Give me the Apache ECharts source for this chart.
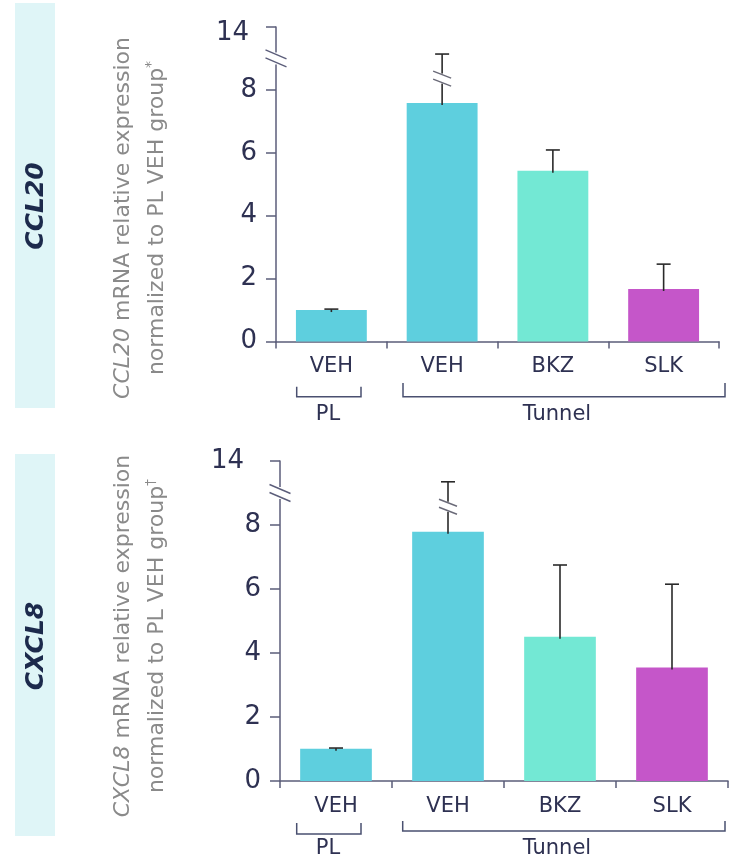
<!DOCTYPE html>
<html>
<head>
<meta charset="utf-8">
<script src="https://cdn.jsdelivr.net/npm/echarts@6/dist/echarts.min.js"></script>
<style>
  html, body { margin: 0; padding: 0; background: #ffffff; }
  #chart { width: 730px; height: 863px; }
</style>
</head>
<body>
<div id="chart"></div>
<script>
// ---- data ----
const categories = ['VEH', 'VEH', 'BKZ', 'SLK'];
const groupLabels = ['PL', 'Tunnel'];
const barColors = ['#5ecfde', '#5ecfde', '#73e8d4', '#c556c9'];

const ccl20Mean = [1.0, 7.58, 5.43, 1.67];
const ccl20Upper = [1.03, 13.14, 6.09, 2.46];

const cxcl8Mean = [1.01, 7.79, 4.51, 3.55];
const cxcl8Upper = [1.03, 13.35, 6.75, 6.15];

const yTickValues = [0, 2, 4, 6, 8, 14];
const axisBreak = { start: 9, end: 13 };

// ---- styling ----
const FONT = 'DejaVu Sans';
const NAVY = '#2e3152';
const AXIS = '#5b5d7a';
const ERR = '#2a2a2a';

const panels = [
  {
    gene: 'CCL20', sup: '*', mean: ccl20Mean, upper: ccl20Upper,
    grid: { left: 276, top: 27, width: 443, height: 314.5 },
    band: { y: 3, h: 405 }, geneY: 206, titleY: 218,
    topLabelPad: [12, 8, 0, 0],
    brackets: [
      { x1: 296.7, x2: 361, yTop: 386.7, yBase: 396.7, textX: 328, textY: 415 },
      { x1: 403, x2: 725, yTop: 383, yBase: 396.7, textX: 557, textY: 415 }
    ]
  },
  {
    gene: 'CXCL8', sup: '\u2020', mean: cxcl8Mean, upper: cxcl8Upper,
    grid: { left: 280, top: 461, width: 448, height: 320 },
    band: { y: 454, h: 382 }, geneY: 646, titleY: 636,
    topLabelPad: [0, 17, 0, 0],
    brackets: [
      { x1: 296.7, x2: 361, yTop: 823, yBase: 834, textX: 328, textY: 849 },
      { x1: 402.7, x2: 725, yTop: 821, yBase: 831, textX: 557, textY: 849 }
    ]
  }
];

function renderErrorBar(params, api) {
  const i = api.value(0);
  const lo = api.value(1);
  const hi = api.value(2);
  const p0 = api.coord([i, lo]);
  const p1 = api.coord([i, hi]);
  const x = p0[0];
  const children = [
    { type: 'line', shape: { x1: x, y1: p0[1] + 2, x2: x, y2: p1[1] },
      style: { stroke: ERR, lineWidth: 1.6 } },
    { type: 'line', shape: { x1: x - 7, y1: p1[1], x2: x + 7, y2: p1[1] },
      style: { stroke: ERR, lineWidth: 1.6 } }
  ];
  if (hi > axisBreak.end) {
    // interrupted whisker with a double slash
    const ym = (p0[1] + p1[1]) / 2;
    children.push({ type: 'rect', shape: { x: x - 3, y: ym - 5, width: 6, height: 10 },
      style: { fill: '#ffffff' } });
    [-4, 4].forEach(function (d) {
      children.push({ type: 'line',
        shape: { x1: x - 9, y1: ym + d - 3.5, x2: x + 9, y2: ym + d + 3.5 },
        style: { stroke: '#6a6a78', lineWidth: 1.4 } });
    });
  }
  return { type: 'group', children: children };
}

const grids = [], xAxes = [], yAxes = [], series = [];
panels.forEach(function (p, k) {
  grids.push(Object.assign({ containLabel: false }, p.grid));
  xAxes.push({
    type: 'category', gridIndex: k, data: categories,
    axisLine: { lineStyle: { color: AXIS, width: 1.5 } },
    axisTick: { show: true, length: 7, lineStyle: { color: AXIS, width: 1.5 } },
    axisLabel: { color: NAVY, fontFamily: FONT, fontSize: 21, margin: 15 }
  });
  yAxes.push({
    type: 'value', gridIndex: k, min: 0, max: 14,
    breaks: [{ start: axisBreak.start, end: axisBreak.end, gap: 0 }],
    breakArea: { show: false },
    splitLine: { show: false },
    axisLine: { show: true, lineStyle: { color: AXIS, width: 1.5 } },
    axisTick: { show: true, length: 10, customValues: yTickValues,
      lineStyle: { color: AXIS, width: 1.5 } },
    axisLabel: {
      customValues: yTickValues, margin: 19,
      formatter: function (v) { return v === 14 ? '{t|14}' : '{n|' + v + '}'; },
      rich: {
        n: { color: NAVY, fontFamily: FONT, fontSize: 26 },
        t: { color: NAVY, fontFamily: FONT, fontSize: 26, padding: p.topLabelPad }
      }
    }
  });
  series.push({
    type: 'bar', xAxisIndex: k, yAxisIndex: k, barWidth: '64%',
    data: p.mean.map(function (v, i) { return { value: v, itemStyle: { color: barColors[i] } }; }),
    z: 2
  });
  series.push({
    type: 'custom', xAxisIndex: k, yAxisIndex: k,
    renderItem: renderErrorBar,
    data: p.mean.map(function (v, i) { return [i, v, p.upper[i]]; }),
    z: 3
  });
});

const chart = echarts.init(document.getElementById('chart'), null, { renderer: 'canvas' });
chart.setOption({
  animation: false,
  grid: grids, xAxis: xAxes, yAxis: yAxes, series: series
});

// ---- annotations: side bands, titles, axis break marks, group brackets ----
const graphics = [];
panels.forEach(function (p, k) {
  graphics.push({ type: 'rect', shape: { x: 15, y: p.band.y, width: 40, height: p.band.h },
    style: { fill: '#dff5f7' }, z: 0 });
  graphics.push({ type: 'text', x: 36, y: p.geneY, rotation: Math.PI / 2,
    style: { text: p.gene, x: 0, y: 0, textAlign: 'center', textVerticalAlign: 'middle',
      fill: '#1c2a4c', fontFamily: FONT, fontSize: 25, fontWeight: 'bold', fontStyle: 'italic' } });
  graphics.push({ type: 'text', x: 140, y: p.titleY, rotation: Math.PI / 2,
    style: {
      text: '{i|' + p.gene + '} mRNA relative expression\nnormalized to PL VEH group{s|' + p.sup + '}',
      x: 0, y: 0, textAlign: 'center', textVerticalAlign: 'middle',
      fill: '#8a8a8a', fontFamily: FONT, fontSize: 22, lineHeight: 34,
      rich: {
        i: { fontStyle: 'italic', fill: '#8a8a8a', fontFamily: FONT, fontSize: 22, lineHeight: 34 },
        s: { fill: '#8a8a8a', fontFamily: FONT, fontSize: 14, padding: [0, 0, 12, 0] }
      }
    } });

  const xa = p.grid.left;
  const yb = chart.convertToPixel({ yAxisIndex: k }, axisBreak.start);
  graphics.push({ type: 'rect', shape: { x: xa - 2, y: yb - 6, width: 4, height: 12 },
    style: { fill: '#ffffff' }, z: 10 });
  [-4, 4].forEach(function (d) {
    graphics.push({ type: 'line',
      shape: { x1: xa - 10.5, y1: yb + d - 4.5, x2: xa + 10.5, y2: yb + d + 4.5 },
      style: { stroke: AXIS, lineWidth: 1.4 }, z: 11 });
  });

  p.brackets.forEach(function (b, j) {
    graphics.push({ type: 'polyline',
      shape: { points: [[b.x1, b.yTop], [b.x1, b.yBase], [b.x2, b.yBase], [b.x2, b.yTop]] },
      style: { stroke: '#4a5070', lineWidth: 1.5, fill: null } });
    graphics.push({ type: 'text', x: b.textX, y: b.textY,
      style: { text: groupLabels[j], x: 0, y: 0, textAlign: 'center', textVerticalAlign: 'middle',
        fill: NAVY, fontFamily: FONT, fontSize: 21 } });
  });
});
chart.setOption({ graphic: graphics });
</script>
</body>
</html>
